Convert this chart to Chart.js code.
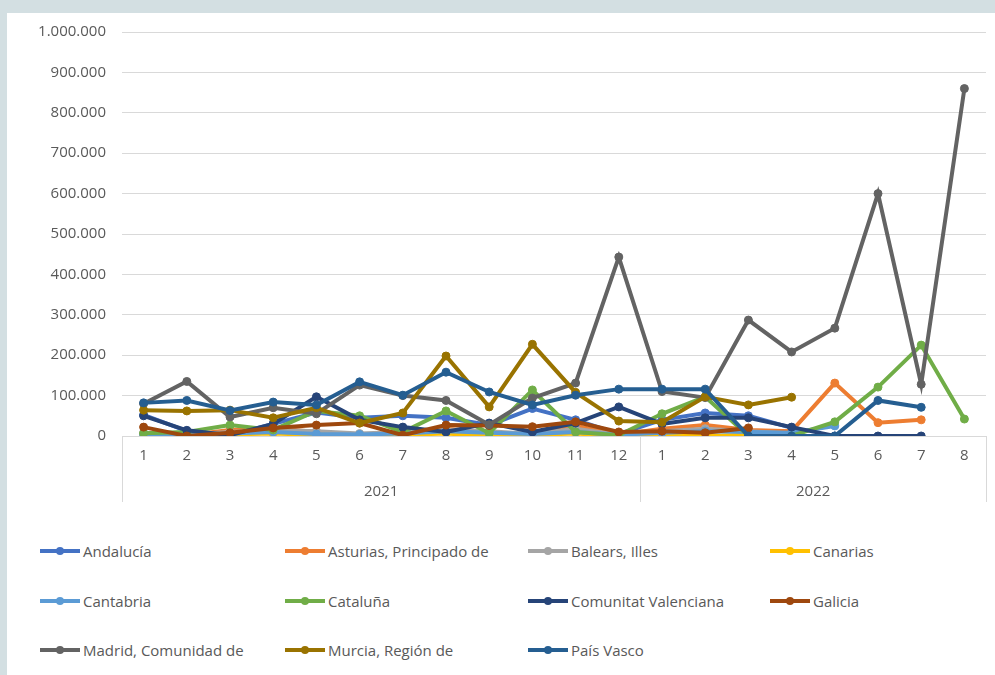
<!DOCTYPE html>
<html>
<head>
<meta charset="utf-8">
<script src="https://cdn.jsdelivr.net/npm/chart.js@4.4.1/dist/chart.umd.min.js"></script>
<style>
  html, body { margin:0; padding:0; }
  body { width:995px; height:675px; overflow:hidden; position:relative; background:#D3DFE2; font-family:"Open Sans", sans-serif; }
  #panel { position:absolute; left:7px; top:13px; width:988px; height:662px; background:#fff; }
  #wrap { position:absolute; left:0; top:0; width:995px; height:520px; }
  .lg { position:absolute; display:flex; align-items:center; font-size:15px; color:#595959; white-space:nowrap; }
  .sw { position:relative; width:40px; height:4px; margin-right:3px; }
  .sw i { position:absolute; left:16px; top:-2px; width:8px; height:8px; border-radius:50%; }
</style>
</head>
<body>
<div id="panel"></div>
<div id="wrap"><canvas id="c"></canvas></div>
<div id="legend"></div>
<script>
const months = ['1','2','3','4','5','6','7','8','9','10','11','12','1','2','3','4','5','6','7','8'];
const years = ['2021','2022'];
const yearSpans = [12, 8];
const seriesNames = ['Andalucía','Asturias, Principado de','Balears, Illes','Canarias','Cantabria','Cataluña','Comunitat Valenciana','Galicia','Madrid, Comunidad de','Murcia, Región de','País Vasco'];

const andalucia  = [52000, 12000, 2000, 30000, 58000, 45000, 50000, 45000, 27000, 68000, 40000, 5000, 40000, 57000, 50000, 20000, null, null, null, null];
const asturias   = [5000, 2000, 15000, 20000, 10000, 2000, 4000, 18000, 8000, 0, 25000, 3000, 18000, 27000, 15000, 12000, 131000, 33000, 40000, null];
const balears    = [8000, 3000, 10000, 15000, 12000, 6000, 10000, 15000, 12000, 5000, 18000, 3000, 12000, 18000, 12000, 6000, null, null, null, null];
const canarias   = [3000, 1000, 4000, 6000, 3000, 2000, 3000, 6000, 0, 3000, 6000, 0, 5000, 0, 3000, 2000, null, null, null, null];
const cantabria  = [3000, 2000, 6000, 10000, 5000, 4000, 6000, 12000, 8000, 5000, 10000, 3000, 8000, 12000, 10000, 8000, 25000, null, null, null];
const cataluna   = [7000, 10000, 27000, 15000, 62000, 50000, 10000, 62000, 7000, 114000, 10000, 2000, 55000, 97000, 0, 0, 35000, 121000, 225000, 42000];
const valenciana = [50000, 14000, 2000, 30000, 97000, 40000, 22000, 10000, 32000, 10000, 32000, 72000, 30000, 45000, 45000, 22000, 0, 0, 0, null];
const galicia    = [22000, 0, 8000, 20000, 27000, 32000, 2000, 27000, 26000, 23000, 35000, 10000, 12000, 8000, 20000, null, null, null, null, null];
const madrid     = [80000, 135000, 47000, 70000, 55000, 126000, 100000, 88000, 28000, 94000, 131000, 443000, 110000, 95000, 287000, 208000, 267000, 600000, 128000, 860000];
const murcia     = [64000, 62000, 64000, 45000, 70000, 32000, 57000, 198000, 72000, 227000, 108000, 37000, 34000, 97000, 77000, 96000, null, null, null, null];
const paisVasco  = [82000, 88000, 63000, 84000, 77000, 134000, 101000, 158000, 109000, 77000, 101000, 116000, 116000, 116000, 0, 0, 0, 88000, 71000, null];

const seriesValues = [andalucia, asturias, balears, canarias, cantabria, cataluna, valenciana, galicia, madrid, murcia, paisVasco];
const colors = ['#4472C4','#ED7D31','#A5A5A5','#FFC000','#5B9BD5','#70AD47','#264478','#9E480E','#636363','#997300','#255E91'];

const fmt = v => String(v).replace(/\B(?=(\d{3})+(?!\d))/g, '.');
const FONT = '"Open Sans", sans-serif';

const datasets = seriesNames.map((name, i) => ({
  label: name,
  data: seriesValues[i],
  borderColor: colors[i],
  backgroundColor: colors[i],
  pointBackgroundColor: colors[i],
  pointBorderColor: colors[i],
  borderWidth: 4,
  pointRadius: 4,
  pointBorderWidth: 1,
  tension: 0,
  spanGaps: false,
  order: seriesNames.length - i
}));

const yearGroups = {
  id: 'yearGroups',
  afterDraw(chart) {
    const ctx = chart.ctx, ca = chart.chartArea;
    const step = (ca.right - ca.left) / months.length;
    ctx.save();
    ctx.strokeStyle = '#D9D9D9';
    ctx.lineWidth = 1;
    let start = 0;
    const bounds = [0];
    yearSpans.forEach(n => { start += n; bounds.push(start); });
    bounds.forEach(b => {
      const x = Math.round(ca.left + b * step) + 0.5;
      ctx.beginPath(); ctx.moveTo(x, ca.bottom); ctx.lineTo(x, ca.bottom + 66); ctx.stroke();
    });
    ctx.fillStyle = '#595959';
    ctx.font = '15px ' + FONT;
    ctx.textAlign = 'center';
    ctx.textBaseline = 'middle';
    years.forEach((y, k) => {
      const x = ca.left + (bounds[k] + bounds[k + 1]) / 2 * step;
      ctx.fillText(y, x, ca.bottom + 56);
    });
    ctx.restore();
  }
};

new Chart(document.getElementById('c'), {
  type: 'line',
  data: { labels: months, datasets },
  options: {
    responsive: true,
    maintainAspectRatio: false,
    animation: false,
    layout: { padding: { top: 32, right: 9, left: 0, bottom: 0 } },
    plugins: { legend: { display: false }, tooltip: { enabled: false } },
    scales: {
      x: {
        offset: true,
        grid: { display: false, drawTicks: false },
        border: { display: false },
        ticks: { color: '#595959', font: { family: FONT, size: 15 }, padding: 11, autoSkip: false, maxRotation: 0 },
        afterFit(s) { s.height = 84; }
      },
      y: {
        min: 0, max: 1000000,
        grid: { color: '#D9D9D9', drawTicks: false },
        border: { display: false },
        ticks: { stepSize: 100000, color: '#595959', font: { family: FONT, size: 15 }, padding: 16, callback: v => fmt(v) },
        afterFit(s) { s.width = 122; }
      }
    }
  },
  plugins: [yearGroups]
});

const colX = [40, 285, 528, 770];
const rowY = [551, 601, 650];
const legend = document.getElementById('legend');
seriesNames.forEach((name, i) => {
  const d = document.createElement('div');
  d.className = 'lg';
  d.style.left = colX[i % 4] + 'px';
  d.style.top = (rowY[Math.floor(i / 4)] - 11) + 'px';
  d.style.height = '22px';
  d.innerHTML = '<span class="sw" style="background:' + colors[i] + '"><i style="background:' + colors[i] + '"></i></span><span>' + name + '</span>';
  legend.appendChild(d);
});
</script>
</body>
</html>
